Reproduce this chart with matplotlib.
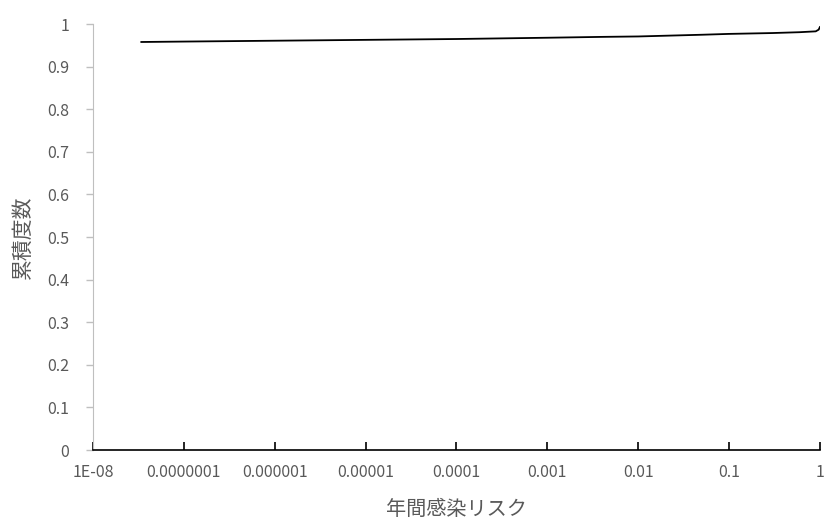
import numpy as np
import matplotlib.pyplot as plt
from matplotlib.ticker import FixedLocator, FixedFormatter

plt.rcParams['font.family'] = ['Noto Sans CJK JP', 'DejaVu Sans']

# annual infection risk vs cumulative frequency
riskX = [3.4e-8, 1e-7, 1e-6, 1e-5, 1e-4, 1e-3, 4e-3, 1e-2, 5e-2, 0.1, 0.3, 0.6, 0.9, 0.97, 1.0]
cumY = [0.958, 0.959, 0.961, 0.963, 0.965, 0.968, 0.970, 0.971, 0.975, 0.977, 0.979, 0.981, 0.983, 0.987, 0.993]

tickVals = [1e-8, 1e-7, 1e-6, 1e-5, 1e-4, 1e-3, 1e-2, 1e-1, 1]
tickLabels = ['1E-08', '0.0000001', '0.000001', '0.00001', '0.0001', '0.001', '0.01', '0.1', '1']
yTicks = [0, 0.1, 0.2, 0.3, 0.4, 0.5, 0.6, 0.7, 0.8, 0.9, 1]
yLabels = ['0', '0.1', '0.2', '0.3', '0.4', '0.5', '0.6', '0.7', '0.8', '0.9', '1']

fig = plt.figure(figsize=(8.24, 5.24), dpi=100)
ax = fig.add_axes([0.1129, 0.1412, 0.8821, 0.8128])

ax.plot(riskX, cumY, color='black', linewidth=1.3)

ax.set_xscale('log')
ax.set_xlim(1e-8, 1)
ax.set_ylim(0, 1)
ax.xaxis.set_major_locator(FixedLocator(tickVals))
ax.xaxis.set_major_formatter(FixedFormatter(tickLabels))
ax.xaxis.set_minor_locator(FixedLocator([]))
ax.set_yticks(yTicks)
ax.set_yticklabels(yLabels)

for s in ['top', 'right']:
    ax.spines[s].set_visible(False)
ax.spines['left'].set_color('#bfbfbf')
ax.spines['bottom'].set_color('black')
ax.spines['bottom'].set_linewidth(1.2)

ax.tick_params(axis='x', direction='in', length=6, width=1.2, color='black',
               labelsize=11.5, labelcolor='#595959', pad=10)
ax.tick_params(axis='y', direction='out', length=5, width=1, color='#bfbfbf',
               labelsize=11.5, labelcolor='#595959', pad=12)

ax.set_xlabel('年間感染リスク', fontsize=14.5, color='#595959', labelpad=13)
ax.set_ylabel('累積度数', fontsize=15, color='#595959', labelpad=10)

fig.savefig('out.png', dpi=100)
